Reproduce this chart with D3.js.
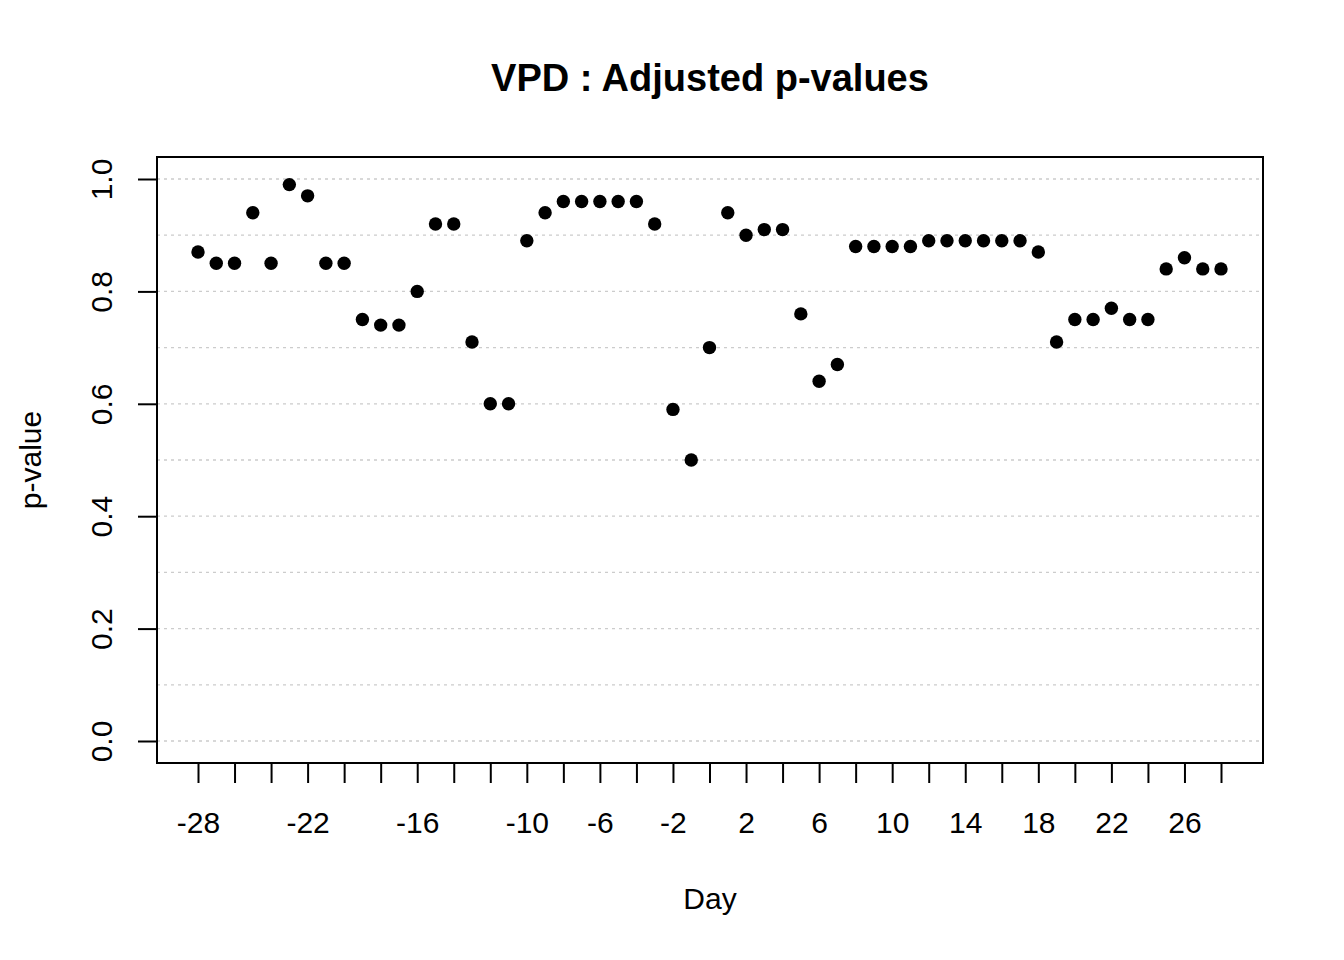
<!DOCTYPE html>
<html>
  <head>
    <meta charset="utf-8">
    <title>VPD : Adjusted p-values</title>
    <script src="https://cdn.jsdelivr.net/npm/d3@7"></script>
    <style type="text/css">

html, body {
  margin: 0;
  background: #fff;
}

svg {
  display: block;
  font-family: "Liberation Sans", Arial, sans-serif;
}

    </style>
  </head>
  <body>
    <script type="text/javascript">

var days = d3.range(-28, 29);
var pvalues = [
  0.87, 0.85, 0.85, 0.94, 0.85, 0.99, 0.97, 0.85, 0.85, 0.75,
  0.74, 0.74, 0.80, 0.92, 0.92, 0.71, 0.60, 0.60, 0.89, 0.94,
  0.96, 0.96, 0.96, 0.96, 0.96, 0.92, 0.59, 0.50, 0.70, 0.94,
  0.90, 0.91, 0.91, 0.76, 0.64, 0.67, 0.88, 0.88, 0.88, 0.88,
  0.89, 0.89, 0.89, 0.89, 0.89, 0.89, 0.87, 0.71, 0.75, 0.75,
  0.77, 0.75, 0.75, 0.84, 0.86, 0.84, 0.84
];
var xTicks = d3.range(-28, 29, 2);
var xLabels = [-28, -22, -16, -10, -6, -2, 2, 6, 10, 14, 18, 22, 26];
var yTicks = [0, 0.2, 0.4, 0.6, 0.8, 1.0];
var yGrid = d3.range(0, 11).map(function(i) { return i / 10; });

var W = 1344, H = 960;
var box = {left: 157, right: 1263, top: 157, bottom: 763};

var svg = d3.select("body").append("svg")
    .attr("width", W)
    .attr("height", H);

var x = d3.scaleLinear().domain([-28, 28]).range([198, 1221]);
var y = d3.scaleLinear().domain([0, 1]).range([741, 179]);

// grid
svg.append("g").selectAll("line")
    .data(yGrid)
  .enter().append("line")
    .attr("x1", box.left)
    .attr("x2", box.right)
    .attr("y1", function(d) { return y(d); })
    .attr("y2", function(d) { return y(d); })
    .attr("stroke", "#cccccc")
    .attr("stroke-width", 1.3)
    .attr("stroke-dasharray", "3,4");

// points
svg.append("g").selectAll("circle")
    .data(days)
  .enter().append("circle")
    .attr("cx", function(d) { return x(d); })
    .attr("cy", function(d, i) { return y(pvalues[i]); })
    .attr("r", 6.7)
    .attr("fill", "#000");

// box
svg.append("rect")
    .attr("x", box.left)
    .attr("y", box.top)
    .attr("width", box.right - box.left)
    .attr("height", box.bottom - box.top)
    .attr("fill", "none")
    .attr("stroke", "#000")
    .attr("stroke-width", 2);

// x axis
var xAxis = d3.axisBottom(x)
    .tickValues(xTicks)
    .tickSize(20)
    .tickFormat(function(d) { return xLabels.indexOf(d) >= 0 ? (d < 0 ? "-" + Math.abs(d) : String(d)) : ""; });

var gx = svg.append("g")
    .attr("transform", "translate(0," + box.bottom + ")")
    .call(xAxis);
gx.select(".domain").remove();
gx.selectAll(".tick line").attr("stroke", "#000").attr("stroke-width", 2);
gx.selectAll(".tick text")
    .attr("y", 0)
    .attr("dy", 0)
    .attr("transform", "translate(0,70)")
    .attr("font-size", 30)
    .attr("font-family", "Liberation Sans, Arial, sans-serif")
    .attr("fill", "#000");

// y axis
var yAxis = d3.axisLeft(y)
    .tickValues(yTicks)
    .tickSize(19)
    .tickFormat(d3.format(".1f"));

var gy = svg.append("g")
    .attr("transform", "translate(" + box.left + ",0)")
    .call(yAxis);
gy.select(".domain").remove();
gy.selectAll(".tick line").attr("stroke", "#000").attr("stroke-width", 2);
gy.selectAll(".tick text")
    .attr("x", 0)
    .attr("dy", 0)
    .attr("transform", "translate(-45,0) rotate(-90)")
    .attr("text-anchor", "middle")
    .attr("font-size", 30)
    .attr("font-family", "Liberation Sans, Arial, sans-serif")
    .attr("fill", "#000");

// titles
svg.append("text")
    .attr("x", (box.left + box.right) / 2)
    .attr("y", 91)
    .attr("text-anchor", "middle")
    .attr("font-size", 38)
    .attr("font-weight", "bold")
    .text("VPD : Adjusted p-values");

svg.append("text")
    .attr("x", (box.left + box.right) / 2)
    .attr("y", 909)
    .attr("text-anchor", "middle")
    .attr("font-size", 30)
    .text("Day");

svg.append("text")
    .attr("transform", "translate(41," + (box.top + box.bottom) / 2 + ") rotate(-90)")
    .attr("text-anchor", "middle")
    .attr("font-size", 30)
    .text("p-value");

    </script>
  </body>
</html>
